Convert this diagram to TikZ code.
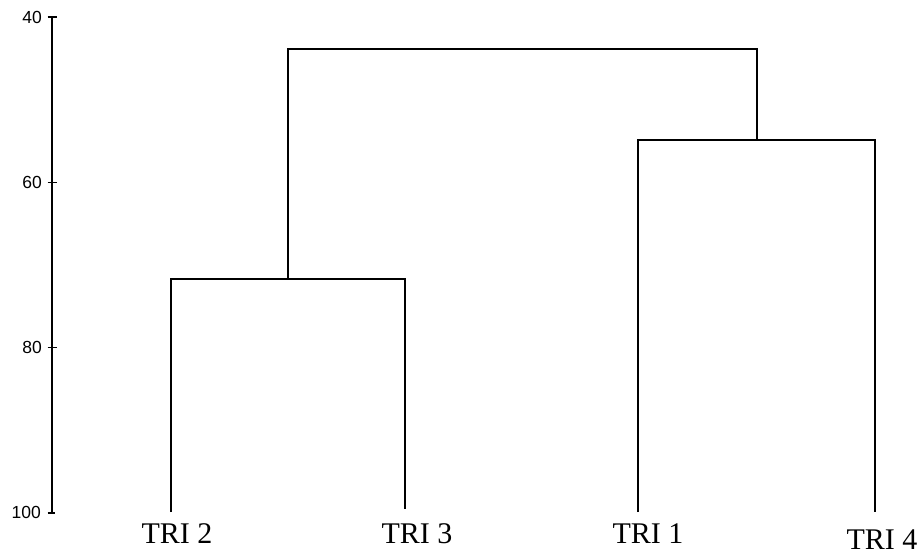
\documentclass[tikz,border=0pt]{standalone}
\usepackage{fontspec}
\setmainfont{Liberation Serif}
\setsansfont{Liberation Sans}
\begin{document}
\begin{tikzpicture}[x=1pt,y=-1pt,
  tree/.style={line width=1.3pt, black},
  axisline/.style={line width=1.2pt, black},
  leaflabel/.style={anchor=base, inner sep=0pt, font=\fontsize{30}{30}\selectfont},
  ticklabel/.style={anchor=east, inner sep=0pt, font=\sffamily\fontsize{17.5}{17.5}\selectfont}]
\useasboundingbox (0,0) rectangle (923,556);

% vertical scale: 40 at y=17, 100 at y=513
\coordinate (a40) at (52,17);
\coordinate (a60) at (52,182.3);
\coordinate (a80) at (52,347.7);
\coordinate (a100) at (52,513);
\draw[axisline] (a40) -- (a100);
\foreach \t in {a40,a60,a80} {
  \draw[axisline] ([xshift=-4.5pt]\t) -- ([xshift=4.5pt]\t);
}
\draw[axisline] ([xshift=-4.5pt]a100) -- ([xshift=3pt]a100);
\node[ticklabel] (l40) at (42,17) {40};
\node[ticklabel] (l60) at (42,182.3) {60};
\node[ticklabel] (l80) at (42,347.7) {80};
\node[ticklabel] (l100) at (41,512) {100};

% leaves
\coordinate (t2) at (171,512);
\coordinate (t3) at (405,509);
\coordinate (t1) at (638,512);
\coordinate (t4) at (875,512);

% merge points
\coordinate (m23) at (288,279);
\coordinate (m14) at (757,140);
\coordinate (root) at (523,49);

\draw[tree] (t2) |- (m23) -| (t3);
\draw[tree] (t1) |- (m14) -| (t4);
\draw[tree] (m23) |- (root) -| (m14);

\node[leaflabel] (n2) at (177,543) {TRI 2};
\node[leaflabel] (n3) at (417,543) {TRI 3};
\node[leaflabel] (n1) at (648,543) {TRI 1};
\node[leaflabel] (n4) at (882,549) {TRI 4};
\end{tikzpicture}
\end{document}
